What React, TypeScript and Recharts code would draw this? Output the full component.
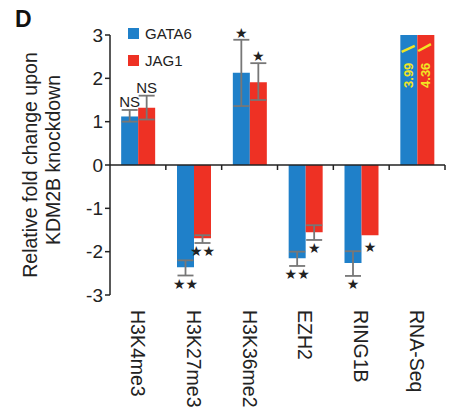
import React from 'react';
import { BarChart, Bar, XAxis, YAxis, ErrorBar, LabelList, ReferenceLine, Legend } from 'recharts';

const categories = ['H3K4me3', 'H3K27me3', 'H3K36me2', 'EZH2', 'RING1B', 'RNA-Seq'];
const seriesNames = ['GATA6', 'JAG1'];
const gata6Values = [1.12, -2.36, 2.13, -2.15, -2.26, 3.99];
const jag1Values = [1.32, -1.69, 1.91, -1.55, -1.62, 4.36];
// asymmetric error deltas [below, above]
const gata6Err: (number[] | null)[] = [[0.12, 0.15], [0.19, 0.16], [0.77, 0.76], [0.18, 0.15], [0.3, 0.27], null];
const jag1Err: (number[] | null)[] = [[0.27, 0.28], [0.11, 0.07], [0.41, 0.44], [0.18, 0.16], null, null];
const gata6Sig = ['NS', '★★', '★', '★★', '★', ''];
const jag1Sig = ['NS', '★★', '★', '★', '★', ''];
const yTicks = [-3, -2, -1, 0, 1, 2, 3];
const brokenCategory = 'RNA-Seq';
const axisMax = 3;

const BLUE = '#1f80c9';
const RED = '#ee3124';
const YELLOW = '#f2e524';
const FONT = '"Liberation Sans", Arial, Helvetica, sans-serif';

const data = categories.map((c, i) => ({
  category: c,
  GATA6: gata6Values[i],
  JAG1: jag1Values[i],
  gErr: gata6Err[i],
  jErr: jag1Err[i],
}));

const geom = (props: any, v: number) => {
  const x = Number(props.x), y = Number(props.y), w = Number(props.width), h = Number(props.height);
  const top = Math.min(y, y + h);
  const bottom = Math.max(y, y + h);
  const ppu = (bottom - top) / Math.abs(v);
  const zero = v > 0 ? bottom : top;
  return { x, w, ppu, zero, at: (d: number) => zero - d * ppu };
};

const makeSigLabel = (sig: string[], errs: (number[] | null)[], values: number[]) => (props: any) => {
  const index = props.index;
  const text = sig[index];
  if (!text) return null;
  const v = values[index];
  const g = geom(props, v);
  const e = errs[index];
  const ext = v > 0 ? v + (e ? e[1] : 0) : v - (e ? e[0] : 0);
  const py = g.at(ext);
  const cx = g.x + g.w / 2;
  const isNS = text === 'NS';
  const fs = isNS ? 15 : 14;
  if (v > 0) {
    return (
      <text x={cx} y={py - (isNS ? 3 : 2)} textAnchor="middle" fontSize={fs} fill="#222" fontFamily={isNS ? FONT : 'DejaVu Sans'}>
        {text}
      </text>
    );
  }
  return (
    <text x={cx} y={py + 3 + (e ? 0 : 3)} textAnchor="middle" dominantBaseline="hanging" fontSize={fs} fill="#222" fontFamily="DejaVu Sans">
      {text}
    </text>
  );
};

const makeBreakLabel = (values: number[], slashFrom: number[], slashTo: number[]) => (props: any) => {
  const index = props.index;
  if (categories[index] !== brokenCategory) return null;
  const v = values[index];
  const g = geom(props, v);
  const cx = g.x + g.w / 2;
  const ty = g.at(axisMax * 0.69);
  return (
    <g>
      <line
        x1={g.x + g.w * slashFrom[0]}
        y1={g.at(axisMax * slashFrom[1])}
        x2={g.x + g.w * slashTo[0]}
        y2={g.at(axisMax * slashTo[1])}
        stroke={YELLOW}
        strokeWidth={2.5}
      />
      <text
        transform={`translate(${cx}, ${ty}) rotate(-90)`}
        textAnchor="middle"
        dominantBaseline="central"
        fontSize={13}
        fontWeight="bold"
        fill={YELLOW}
        fontFamily={FONT}
      >
        {v.toFixed(2)}
      </text>
    </g>
  );
};

const ZeroAxis = (props: any) => {
  const x1 = Number(props.x1), x2 = Number(props.x2), y = Number(props.y1);
  const n = categories.length;
  const step = (x2 - x1) / n;
  const ticks = [];
  for (let k = 1; k <= n; k++) {
    const tx = x1 + k * step;
    ticks.push(<line key={k} x1={tx} y1={y} x2={tx} y2={y + 5} stroke="#222" strokeWidth={1.5} />);
  }
  return (
    <g>
      <line x1={x1} y1={y} x2={x2} y2={y} stroke="#222" strokeWidth={1.5} />
      {ticks}
    </g>
  );
};

const XTick = (props: any) => {
  const { x, y, payload } = props;
  return (
    <text
      transform={`translate(${x}, ${y + 7}) rotate(90)`}
      textAnchor="start"
      dominantBaseline="central"
      fontSize={19.5}
      fill="#222"
      fontFamily={FONT}
    >
      {payload.value}
    </text>
  );
};

const YLabel = (props: any) => {
  const vb = props.viewBox || { x: 0, y: 35, width: 110, height: 260 };
  const cy = vb.y + vb.height / 2;
  return (
    <g fontFamily={FONT} fontSize={19.5} fill="#222">
      <text transform={`translate(${vb.x + 30}, ${cy}) rotate(-90)`} textAnchor="middle" dominantBaseline="central">
        Relative fold change upon
      </text>
      <text transform={`translate(${vb.x + 53}, ${cy - 5}) rotate(-90)`} textAnchor="middle" dominantBaseline="central">
        KDM2B knockdown
      </text>
    </g>
  );
};

const LegendContent = () => (
  <div style={{ fontFamily: FONT, fontSize: 15, color: '#222' }}>
    {seriesNames.map((name, i) => (
      <div key={name} style={{ display: 'flex', alignItems: 'center', height: 27 }}>
        <span style={{ display: 'inline-block', width: 11, height: 11, background: i === 0 ? BLUE : RED, marginRight: 6 }} />
        <span>{name}</span>
      </div>
    ))}
  </div>
);

export default function App() {
  return (
    <div style={{ position: 'absolute', left: 0, top: 0, width: 449, height: 408, background: '#fff' }}>
      <div style={{ position: 'absolute', left: 15, top: 6, fontFamily: FONT, fontWeight: 'bold', fontSize: 23, color: '#111' }}>
        D
      </div>
      <BarChart
        width={449}
        height={408}
        data={data}
        margin={{ top: 35, right: 4, bottom: 0, left: 0 }}
        barCategoryGap="20%"
        barGap={0}
      >
        <XAxis
          dataKey="category"
          axisLine={false}
          tickLine={false}
          height={113}
          interval={0}
          tick={<XTick />}
        />
        <YAxis
          width={110}
          domain={[-3, 3]}
          ticks={yTicks}
          allowDataOverflow
          axisLine={{ stroke: '#222', strokeWidth: 1.5 }}
          tickLine={{ stroke: '#222', strokeWidth: 1.5 }}
          tickSize={5}
          tick={{ fontSize: 19, fill: '#222', fontFamily: FONT }}
          label={<YLabel />}
        />
        <Legend
          layout="horizontal"
          verticalAlign="middle"
          align="center"
          content={<LegendContent />}
          wrapperStyle={{ position: 'absolute', left: 128, top: 20, width: 80 }}
        />
        <ReferenceLine y={0} shape={(p: any) => <ZeroAxis {...p} />} />
        <Bar dataKey="GATA6" fill={BLUE} isAnimationActive={false}>
          <ErrorBar dataKey="gErr" width={8} stroke="#777" strokeWidth={1.8} />
          <LabelList dataKey="GATA6" content={makeSigLabel(gata6Sig, gata6Err, gata6Values)} />
          <LabelList dataKey="GATA6" content={makeBreakLabel(gata6Values, [0.08, 0.87], [0.85, 0.917])} />
        </Bar>
        <Bar dataKey="JAG1" fill={RED} isAnimationActive={false}>
          <ErrorBar dataKey="jErr" width={8} stroke="#777" strokeWidth={1.8} />
          <LabelList dataKey="JAG1" content={makeSigLabel(jag1Sig, jag1Err, jag1Values)} />
          <LabelList dataKey="JAG1" content={makeBreakLabel(jag1Values, [0.05, 0.877], [0.8, 0.93])} />
        </Bar>
      </BarChart>
    </div>
  );
}
